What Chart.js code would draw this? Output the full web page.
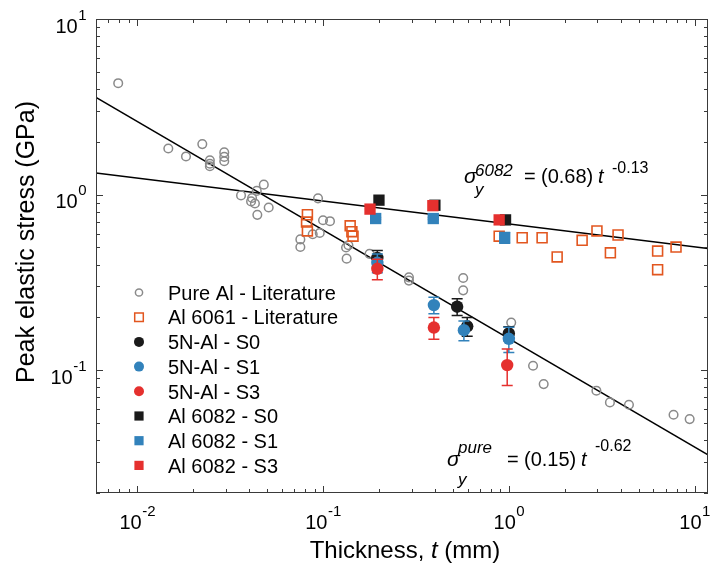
<!DOCTYPE html>
<html>
<head>
<meta charset="utf-8">
<script src="https://cdn.jsdelivr.net/npm/chart.js@4.4.1/dist/chart.umd.min.js"></script>
<style>
  html, body { margin: 0; padding: 0; background: #fff; }
  canvas { display: block; }
</style>
</head>
<body>
<canvas id="chart" width="720" height="566"></canvas>
<script>
// values: thickness in mm, stress in GPa
const pureLitX = [0.0079, 0.0147, 0.0183, 0.0224, 0.0246, 0.0246, 0.0246, 0.0294, 0.0294, 0.0294,
  0.0362, 0.048, 0.044, 0.0415, 0.041, 0.043, 0.0443, 0.051, 0.094, 0.100, 0.109, 0.096, 0.088,
  0.0755, 0.0755, 0.133, 0.137, 0.134, 0.178, 0.29, 0.29, 0.568, 0.568, 1.03, 1.35, 1.54, 2.96,
  3.5, 4.43, 7.7, 9.4];
const pureLitY = [4.31, 1.83, 1.65, 1.94, 1.57, 1.50, 1.45, 1.74, 1.64, 1.55,
  0.99, 1.14, 1.05, 0.957, 0.915, 0.89, 0.767, 0.845, 0.952, 0.715, 0.706, 0.605, 0.595,
  0.556, 0.503, 0.50, 0.515, 0.432, 0.46, 0.338, 0.324, 0.335, 0.285, 0.187, 0.106, 0.0834, 0.0765,
  0.0656, 0.0636, 0.0558, 0.0527];

const al6061X = [0.0824, 0.0815, 0.0824, 0.14, 0.143, 0.145, 0.887, 1.18, 1.51, 1.82, 2.48, 2.98, 3.52, 3.87, 6.32, 6.32, 7.94];
const al6061Y = [0.768, 0.698, 0.621, 0.664, 0.615, 0.58, 0.58, 0.568, 0.568, 0.442, 0.549, 0.621, 0.466, 0.589, 0.477, 0.374, 0.503];

const s0X = [0.196, 0.527, 0.597, 1.0];
const s0Y = [0.436, 0.23, 0.178, 0.162];
const s0Err = [0.045, 0.025, 0.022, 0.015];

const s1X = [0.196, 0.395, 0.573, 1.0];
const s1Y = [0.409, 0.235, 0.169, 0.151];
const s1Err = [0.05, 0.025, 0.022, 0.025];

const s3X = [0.196, 0.395, 0.98];
const s3Y = [0.378, 0.175, 0.107];
const s3Err = [0.05, 0.025, 0.025];

const a6082S0X = [0.2, 0.40, 0.96];
const a6082S0Y = [0.93, 0.87, 0.718];
const a6082S1X = [0.192, 0.392, 0.95];
const a6082S1Y = [0.731, 0.731, 0.568];
const a6082S1Err = [0.01, 0.01, 0.04];
const a6082S3X = [0.179, 0.39, 0.887];
const a6082S3Y = [0.827, 0.865, 0.718];

// fit lines, end points at the axis limits
const fitX = [0.006, 11.8];
const pureFitY = [3.58, 0.033];
const fit6082Y = [1.33, 0.494];

const xMajorExp = [-2, -1, 0, 1];
const yMajorExp = [-1, 0, 1];

const FONT = "'Liberation Sans', Arial, Helvetica, sans-serif";
const GRAY = '#8a8a8a', ORANGE = '#e2561f', BLACK = '#1a1a1a', BLUE = '#3282bb', RED = '#e5302e';

const pts = (xs, ys) => xs.map((x, i) => ({ x: x, y: ys[i] }));

const errorBars = {
  id: 'errorBars',
  beforeDatasetDraw(chart, args) {
    const ds = chart.data.datasets[args.index];
    if (!ds.errors) return;
    const ctx = chart.ctx, ys = chart.scales.y;
    ctx.save();
    ctx.strokeStyle = ds.borderColor;
    ctx.lineWidth = 1.5;
    args.meta.data.forEach((pt, i) => {
      const v = ds.data[i].y, e = ds.errors[i];
      const top = ys.getPixelForValue(v + e), bot = ys.getPixelForValue(v - e);
      ctx.beginPath();
      ctx.moveTo(pt.x, top); ctx.lineTo(pt.x, bot);
      ctx.moveTo(pt.x - 5.5, top); ctx.lineTo(pt.x + 5.5, top);
      ctx.moveTo(pt.x - 5.5, bot); ctx.lineTo(pt.x + 5.5, bot);
      ctx.stroke();
    });
    ctx.restore();
  }
};

function drawPow(ctx, exp, x, base, align) {
  const e = exp < 0 ? '-' + Math.abs(exp) : String(exp);
  ctx.font = '20px ' + FONT;
  const w10 = ctx.measureText('10').width;
  ctx.font = '15px ' + FONT;
  const we = ctx.measureText(e).width;
  let start = align === 'center' ? x - (w10 + we) / 2 : x - w10 - we;
  ctx.font = '20px ' + FONT;
  ctx.fillText('10', start, base);
  ctx.font = '15px ' + FONT;
  ctx.fillText(e, start + w10 + 0.5, base - 13);
}

function drawFormula(ctx, x, base, supTxt, coef, expTxt, supOff, subOff, expOff) {
  ctx.font = 'italic 21px ' + FONT;
  ctx.fillText('σ', x, base);
  ctx.font = 'italic 17px ' + FONT;
  ctx.fillText(supTxt, x + 11, base - supOff);
  ctx.fillText('y', x + 11, base + subOff);
  ctx.font = '20px ' + FONT;
  ctx.fillText('=', x + 60, base);
  ctx.fillText('(' + coef + ')', x + 77, base);
  ctx.font = 'italic 20px ' + FONT;
  ctx.fillText('t', x + 134, base);
  ctx.font = '16px ' + FONT;
  ctx.fillText(expTxt, x + 148, base - expOff);
}

const frame = {
  id: 'frame',
  afterDraw(chart) {
    const ctx = chart.ctx, a = chart.chartArea;
    const xs = chart.scales.x, ys = chart.scales.y;
    ctx.save();
    ctx.strokeStyle = '#3a3a3a';
    ctx.lineWidth = 1;
    ctx.strokeRect(a.left + 0.5, a.top + 0.5, a.right - a.left - 1, a.bottom - a.top - 1);

    // inward ticks on all four sides
    ctx.beginPath();
    for (let e = -3; e <= 1; e++) {
      for (let m = 1; m <= 9; m++) {
        const v = m * Math.pow(10, e);
        const len = m === 1 ? 7 : 4;
        if (v >= xs.min && v <= xs.max) {
          const px = Math.round(xs.getPixelForValue(v)) + 0.5;
          ctx.moveTo(px, a.bottom); ctx.lineTo(px, a.bottom - len);
          ctx.moveTo(px, a.top); ctx.lineTo(px, a.top + len);
        }
        if (v >= ys.min * 0.999 && v <= ys.max * 1.001) {
          const py = Math.round(ys.getPixelForValue(v)) + 0.5;
          ctx.moveTo(a.left, py); ctx.lineTo(a.left + len, py);
          ctx.moveTo(a.right, py); ctx.lineTo(a.right - len, py);
        }
      }
    }
    ctx.stroke();

    ctx.fillStyle = '#000';
    ctx.textAlign = 'left';
    ctx.textBaseline = 'alphabetic';
    xMajorExp.forEach(e => drawPow(ctx, e, xs.getPixelForValue(Math.pow(10, e)), 529, 'center'));
    yMajorExp.forEach(e => drawPow(ctx, e, 86, ys.getPixelForValue(Math.pow(10, e)) + 13.5, 'right'));

    // axis titles
    ctx.font = '24px ' + FONT;
    const w1 = ctx.measureText('Thickness, ').width;
    const w3 = ctx.measureText(' (mm)').width;
    ctx.font = 'italic 24px ' + FONT;
    const w2 = ctx.measureText('t').width;
    let tx = 405 - (w1 + w2 + w3) / 2;
    ctx.font = '24px ' + FONT;
    ctx.fillText('Thickness, ', tx, 558);
    ctx.font = 'italic 24px ' + FONT;
    ctx.fillText('t', tx + w1, 558);
    ctx.font = '24px ' + FONT;
    ctx.fillText(' (mm)', tx + w1 + w2, 558);

    ctx.save();
    ctx.translate(34, 242);
    ctx.rotate(-Math.PI / 2);
    ctx.textAlign = 'center';
    ctx.font = '25px ' + FONT;
    ctx.fillText('Peak elastic stress (GPa)', 0, 0);
    ctx.restore();

    // fit equations
    drawFormula(ctx, 464, 183, '6082', '0.68', '-0.13', 7, 12, 10);
    drawFormula(ctx, 447, 466, 'pure', '0.15', '-0.62', 13, 19, 15);

    // legend
    let row = 292.5;
    chart.data.datasets.forEach(ds => {
      if (ds.inLegend === false) return;
      const mx = 139;
      ctx.beginPath();
      if (ds.pointStyle === 'circle') {
        ctx.arc(mx, row, ds.legendSize, 0, Math.PI * 2);
      } else {
        const h = ds.legendSize;
        ctx.rect(mx - h, row - h, 2 * h, 2 * h);
      }
      if (ds.hollow) {
        ctx.strokeStyle = ds.borderColor;
        ctx.lineWidth = 1.5;
        ctx.stroke();
      } else {
        ctx.fillStyle = ds.backgroundColor;
        ctx.fill();
      }
      ctx.fillStyle = '#000';
      ctx.font = '20px ' + FONT;
      ctx.fillText(ds.label, 168, row + 7.2);
      row += 24.7;
    });
    ctx.restore();
  }
};

new Chart(document.getElementById('chart'), {
  type: 'scatter',
  data: {
    datasets: [
      { label: 'Pure Al - Literature', data: pts(pureLitX, pureLitY), pointStyle: 'circle', pointRadius: 4.3,
        borderColor: GRAY, backgroundColor: 'rgba(0,0,0,0)', borderWidth: 1.5, hollow: true, legendSize: 3.6, order: 9 },
      { label: 'Al 6061 - Literature', data: pts(al6061X, al6061Y), pointStyle: 'rect', pointRadius: 7,
        borderColor: ORANGE, backgroundColor: 'rgba(0,0,0,0)', borderWidth: 1.6, hollow: true, legendSize: 4.3, order: 8 },
      { label: '5N-Al - S0', data: pts(s0X, s0Y), errors: s0Err, pointStyle: 'circle', pointRadius: 6.2,
        borderColor: BLACK, backgroundColor: BLACK, borderWidth: 0, legendSize: 5, order: 6 },
      { label: '5N-Al - S1', data: pts(s1X, s1Y), errors: s1Err, pointStyle: 'circle', pointRadius: 6.2,
        borderColor: BLUE, backgroundColor: BLUE, borderWidth: 0, legendSize: 5, order: 5 },
      { label: '5N-Al - S3', data: pts(s3X, s3Y), errors: s3Err, pointStyle: 'circle', pointRadius: 6.2,
        borderColor: RED, backgroundColor: RED, borderWidth: 0, legendSize: 5, order: 4 },
      { label: 'Al 6082 - S0', data: pts(a6082S0X, a6082S0Y), pointStyle: 'rect', pointRadius: 8,
        borderColor: BLACK, backgroundColor: BLACK, borderWidth: 0, legendSize: 4.6, order: 3 },
      { label: 'Al 6082 - S1', data: pts(a6082S1X, a6082S1Y), errors: a6082S1Err, pointStyle: 'rect', pointRadius: 8,
        borderColor: BLUE, backgroundColor: BLUE, borderWidth: 0, legendSize: 4.6, order: 2 },
      { label: 'Al 6082 - S3', data: pts(a6082S3X, a6082S3Y), pointStyle: 'rect', pointRadius: 8,
        borderColor: RED, backgroundColor: RED, borderWidth: 0, legendSize: 4.6, order: 1 },
      { label: 'pure fit', data: pts(fitX, pureFitY), showLine: true, pointRadius: 0, borderColor: '#000',
        borderWidth: 1.5, inLegend: false, order: 10 },
      { label: '6082 fit', data: pts(fitX, fit6082Y), showLine: true, pointRadius: 0, borderColor: '#000',
        borderWidth: 1.5, inLegend: false, order: 10 }
    ]
  },
  options: {
    responsive: false,
    animation: false,
    layout: { padding: { left: 96, top: 19, right: 12, bottom: 73 } },
    scales: {
      x: { type: 'logarithmic', display: false, min: 0.006, max: 11.8, bounds: 'data' },
      y: { type: 'logarithmic', display: false, min: 0.02, max: 10, bounds: 'data' }
    },
    plugins: {
      legend: { display: false },
      tooltip: { enabled: false }
    }
  },
  plugins: [errorBars, frame]
});
</script>
</body>
</html>
